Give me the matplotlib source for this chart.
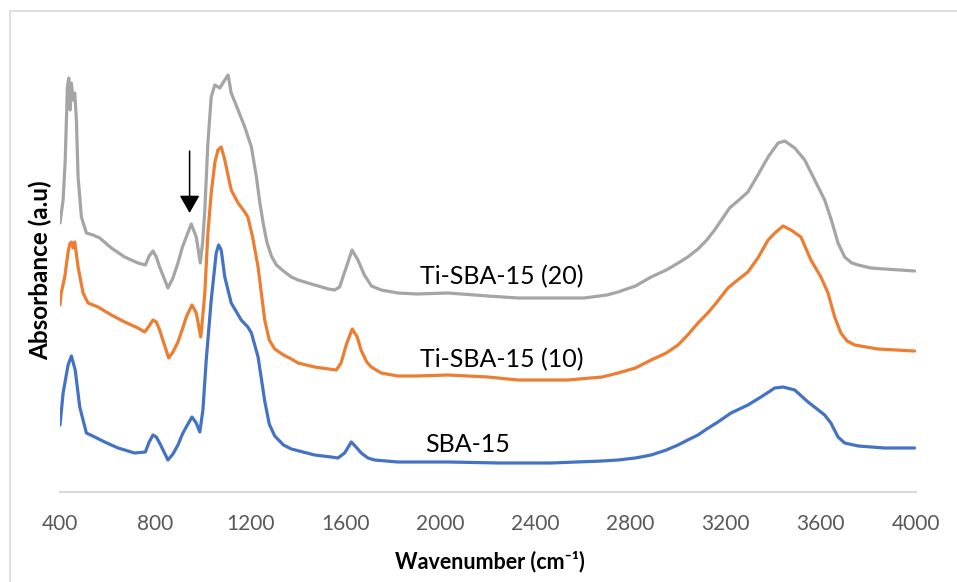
import matplotlib
matplotlib.use("Agg")
import matplotlib.pyplot as plt
from matplotlib.patches import Rectangle

# ---- data (arbitrary absorbance units) ----
wn_ti20 = [400, 413, 422, 431, 437, 443, 448, 455, 462, 469, 476, 490, 511, 539, 567,
           616, 672, 728, 759, 775, 791, 805, 819, 854, 875, 896, 915, 931, 952, 973, 990,
           1000, 1009, 1022, 1036, 1051, 1072, 1093, 1107, 1120, 1149, 1177, 1205, 1226,
           1240, 1255, 1270, 1289, 1310, 1345, 1373, 1401, 1471, 1530, 1555, 1576, 1600,
           1628, 1653, 1680, 1710, 1751, 1821, 1900, 2032, 2200, 2326, 2450, 2604, 2700,
           2747, 2820, 2886, 2950, 3000, 3040, 3083, 3120, 3153, 3216, 3260, 3293, 3335,
           3378, 3420, 3448, 3490, 3532, 3574, 3616, 3644, 3672, 3700, 3730, 3757, 3810,
           3868, 3994]
ab_ti20 = [269, 292, 332, 405, 414, 382, 409, 392, 399, 372, 315, 275, 259, 257, 254,
           244, 235, 229, 227, 236, 241, 235, 225, 204, 214, 229, 245, 255, 268, 255, 229,
           250, 282, 349, 395, 407, 404, 412, 417, 399, 382, 365, 345, 315,
           290, 268, 250, 236, 227, 220, 215, 212, 207, 203, 202, 205, 222,
           242, 232, 217, 206, 202, 199, 198, 199, 196, 194, 194, 194, 197,
           200, 206, 215, 222, 229, 235, 243, 252, 262, 284, 293, 300, 317,
           335, 349, 351, 344, 332, 312, 292, 272, 249, 235, 229, 227, 224,
           223, 221]

wn_ti10 = [400, 405, 420, 434, 441, 448, 455, 462, 476, 497, 518, 560, 616, 672, 728,
           756, 775, 791, 805, 819, 857, 875, 896, 915, 931, 955, 973, 992, 1000, 1009,
           1022, 1036, 1051, 1064, 1078, 1093, 1120, 1149, 1177, 1190, 1210, 1233, 1261,
           1280, 1303, 1340, 1373, 1401, 1471, 1530, 1562, 1582, 1605, 1629, 1650, 1666,
           1690, 1709, 1751, 1821, 1900, 2032, 2200, 2326, 2536, 2680, 2747, 2820, 2886,
           2950, 2999, 3040, 3083, 3120, 3153, 3209, 3250, 3293, 3335, 3378, 3411, 3441,
           3474, 3516, 3558, 3600, 3630, 3658, 3684, 3710, 3742, 3790, 3840, 3994]
ab_ti10 = [187, 199, 215, 240, 248, 250, 244, 250, 225, 199, 189, 185, 177, 170, 164,
           160, 166, 172, 170, 162, 134, 140, 150, 163, 175, 187, 179, 155, 175, 199,
           259, 299, 329, 342, 345, 332, 302, 289, 280, 275, 255, 225, 172,
           152, 143, 137, 133, 129, 125, 123, 122, 129, 148, 163, 155, 142,
           130, 125, 119, 116, 116, 117, 115, 112, 112, 115, 119, 124, 132,
           139, 147, 157, 169, 178, 187, 204, 212, 220, 234, 252, 260, 266,
           262, 255, 232, 215, 199, 175, 159, 151, 147, 145, 143, 141]

wn_sba = [400, 413, 434, 448, 464, 483, 511, 546, 588, 644, 714, 759, 775, 791, 805,
          819, 854, 875, 896, 915, 931, 955, 973, 988, 1001, 1015, 1036, 1057, 1067, 1078,
          1093, 1120, 1162, 1190, 1205, 1233, 1261, 1280, 1303, 1340, 1373, 1471, 1540,
          1569, 1597, 1625, 1645, 1667, 1695, 1723, 1821, 1900, 2032, 2250, 2465, 2680,
          2747, 2820, 2886, 2950, 2999, 3040, 3083, 3120, 3167, 3222, 3293, 3348, 3406,
          3441, 3490, 3546, 3616, 3642, 3672, 3700, 3757, 3868, 3994]
ab_sba = [67, 99, 127, 136, 122, 85, 59, 55, 50, 44, 39, 40, 50, 57, 55,
          49, 32, 38, 47, 58, 65, 75, 69, 60, 82, 132, 192, 239, 247, 242,
          215, 189, 172, 165, 159, 135, 91, 68, 56, 47, 43, 37, 35,
          34, 39, 50, 45, 39, 34, 32, 30, 30, 30, 29, 29, 31,
          32, 34, 37, 42, 47, 52, 57, 63, 70, 79, 87, 95, 104,
          105, 102, 90, 77, 69, 55, 49, 46, 44, 44]

series_labels = ["Ti-SBA-15 (20)", "Ti-SBA-15 (10)", "SBA-15"]
x_ticks = [400, 800, 1200, 1600, 2000, 2400, 2800, 3200, 3600, 4000]

# ---- figure ----
W, H = 957, 582
fig = plt.figure(figsize=(W / 100, H / 100), dpi=100)
plt.rcParams['font.family'] = ['Lato', 'DejaVu Sans']

ax = fig.add_axes([60 / W, (H - 492) / H, 856 / W, 472 / H])
ax.set_xlim(400, 4000)
ax.set_ylim(0, 472)

lw = 2.3
kw = dict(lw=lw, solid_joinstyle='round', solid_capstyle='round')
ax.plot(wn_ti20, ab_ti20, color='#A5A5A5', **kw)
ax.plot(wn_ti10, ab_ti10, color='#ED7D31', **kw)
ax.plot(wn_sba, ab_sba, color='#4472C4', **kw)

for s in ['top', 'right', 'left']:
    ax.spines[s].set_visible(False)
ax.spines['bottom'].set_color('#D9D9D9')
ax.spines['bottom'].set_linewidth(1.5)
ax.set_yticks([])
ax.set_xticks(x_ticks)
ax.set_xticklabels([str(t) for t in x_ticks], fontsize=15, color='#595959')
ax.tick_params(axis='x', length=0, pad=16)

# curve labels
ax.text(1914, 215, series_labels[0], fontsize=18, color='black', ha='left', va='center')
ax.text(1914, 132, series_labels[1], fontsize=18, color='black', ha='left', va='center')
ax.text(1935, 48, series_labels[2], fontsize=18, color='black', ha='left', va='center')

# arrow
ax.annotate('', xy=(945, 279), xytext=(945, 341),
            arrowprops=dict(arrowstyle='-|>,head_length=0.72,head_width=0.41',
                            color='black', lw=1.1, mutation_scale=15, shrinkA=0, shrinkB=0))

# axis titles
fig.text(490 / W, 1 - 562 / H, 'Wavenumber (cm\u207b\u00b9)', fontsize=15.5,
         fontweight='bold', ha='center', va='center')
fig.text(40 / W, 1 - 270 / H, 'Absorbance (a.u)', fontsize=17.5, fontweight='bold',
         rotation=90, ha='center', va='center')

# outer chart border
fig.patches.append(Rectangle((10 / W, -0.1), 1.2, (H - 11) / H + 0.1,
                             transform=fig.transFigure, fill=False,
                             edgecolor='#D9D9D9', lw=1.2))

fig.savefig('out.png', dpi=100)
